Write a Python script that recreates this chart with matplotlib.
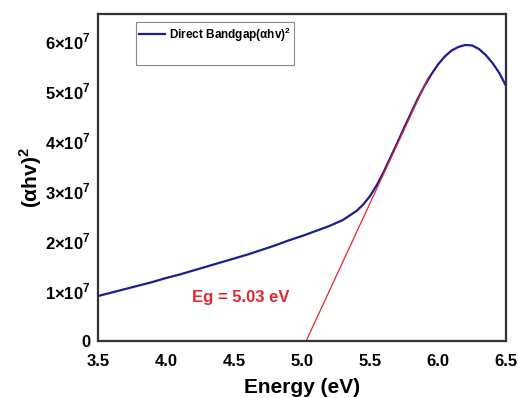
import numpy as np
import matplotlib
matplotlib.use('Agg')
import matplotlib.pyplot as plt
from matplotlib.ticker import FuncFormatter
from matplotlib.lines import Line2D

plt.rcParams['font.family'] = ['Liberation Sans', 'DejaVu Sans']
plt.rcParams['font.weight'] = 'bold'
plt.rcParams['mathtext.fontset'] = 'custom'
plt.rcParams['mathtext.rm'] = 'Liberation Sans:bold'
plt.rcParams['mathtext.bf'] = 'Liberation Sans:bold'

# energy (eV) and (alpha h nu)^2 in units of 1e7
energy = [3.5, 3.6, 3.7, 3.8, 3.9, 4.0, 4.1, 4.2, 4.3, 4.4, 4.5, 4.6, 4.7, 4.8,
          4.9, 5.0, 5.1, 5.2, 5.3, 5.4, 5.45, 5.5, 5.55, 5.6, 5.65, 5.7, 5.75,
          5.8, 5.85, 5.9, 5.95, 6.0, 6.05, 6.1, 6.15, 6.2, 6.25, 6.3, 6.35,
          6.4, 6.45, 6.5]
ahv2 = [0.90, 0.97, 1.04, 1.11, 1.18, 1.26, 1.33, 1.41, 1.49, 1.57, 1.65, 1.73,
        1.82, 1.91, 2.01, 2.10, 2.20, 2.30, 2.42, 2.60, 2.73, 2.90, 3.12, 3.38,
        3.67, 3.96, 4.26, 4.55, 4.84, 5.10, 5.33, 5.53, 5.69, 5.81, 5.88, 5.92,
        5.91, 5.84, 5.72, 5.56, 5.36, 5.10]

# linear fit (Tauc extrapolation)
fit_x = [5.03, 5.93]
fit_y = [0.0, 5.28]

xticks = [3.5, 4.0, 4.5, 5.0, 5.5, 6.0, 6.5]
yticks = [0, 1, 2, 3, 4, 5, 6]

fig = plt.figure(figsize=(5.18, 3.98), dpi=100)
ax = fig.add_axes([0.189, 0.143, 0.788, 0.822])

y = np.array(ahv2) * 1e7
ax.plot(energy, y, color='#1c1c96', lw=1.6, label='Direct Bandgap(αhv)$^{\\mathbf{2}}$')
ax.plot(fit_x, np.array(fit_y) * 1e7, color='#e3262e', lw=0.9)

ax.set_xlim(3.5, 6.5)
ax.set_ylim(0, 6.54e7)
ax.set_xticks(xticks)
ax.set_yticks([v * 1e7 for v in yticks])


def fmt_y(v, pos):
    n = int(round(v / 1e7))
    if n == 0:
        return '0'
    return f'{n}×10$^{{\\mathbf{{7}}}}$'


ax.yaxis.set_major_formatter(FuncFormatter(fmt_y))
ax.xaxis.set_major_formatter(FuncFormatter(lambda v, p: f'{v:.1f}'))
ax.tick_params(length=0, labelsize=12)
ax.tick_params(axis='x', pad=9)
ax.tick_params(axis='y', pad=5)
for lab in ax.get_xticklabels() + ax.get_yticklabels():
    lab.set_fontweight('bold')

for sp in ax.spines.values():
    sp.set_linewidth(1.6)
    sp.set_color('#333333')

ax.set_xlabel('Energy (eV)', fontsize=15, fontweight='bold', labelpad=7)
ax.set_ylabel('(αhv)$^{\\mathbf{2}}$', fontsize=15, fontweight='bold', labelpad=1)

ax.text(4.19, 0.88e7, 'Eg = 5.03 eV', color='#e3262e', fontsize=12,
        fontweight='bold', va='center', ha='left')

handles = [ax.get_lines()[0], Line2D([], [], color='none')]
labels = ['Direct Bandgap(αhv)$^{\\mathbf{2}}$', ' ']
leg = ax.legend(handles, labels, loc='upper left', bbox_to_anchor=(0.093, 0.976),
                fancybox=False, edgecolor='#888888', framealpha=1,
                prop={'size': 8.5, 'weight': 'bold'}, handlelength=2.2,
                handletextpad=0.3, borderpad=0.3, labelspacing=0.5,
                borderaxespad=0)
leg.get_frame().set_linewidth(0.8)

fig.savefig('out.png', dpi=100)
